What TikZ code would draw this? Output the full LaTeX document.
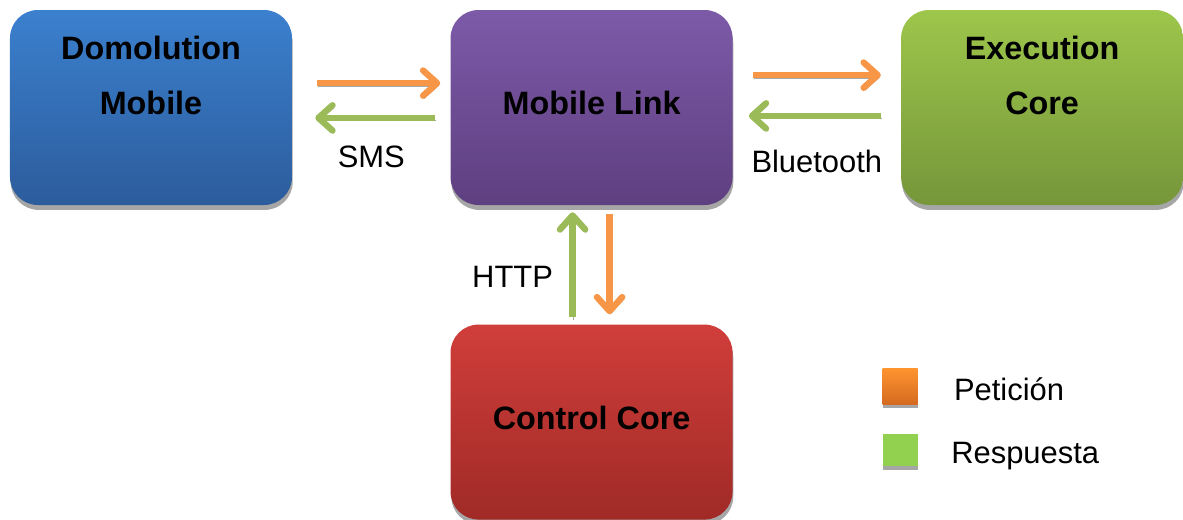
\documentclass[tikz,border=0pt]{standalone}
\usepackage{fontspec}
\setmainfont{Liberation Sans}
\usetikzlibrary{shapes,arrows.meta,positioning,shadows,calc}

\definecolor{bluetop}{HTML}{3B80CE}
\definecolor{bluebot}{HTML}{2C5C9C}
\definecolor{purtop}{HTML}{7D5AA8}
\definecolor{purbot}{HTML}{5E3F80}
\definecolor{grntop}{HTML}{9DC64B}
\definecolor{grnbot}{HTML}{76963A}
\definecolor{redtop}{HTML}{D03E3A}
\definecolor{redbot}{HTML}{A02A27}
\definecolor{petorange}{HTML}{F79646}
\definecolor{resgreen}{HTML}{9BBB59}
\definecolor{legorangetop}{HTML}{FF9430}
\definecolor{legorangebot}{HTML}{D56A20}
\definecolor{leggreen}{HTML}{92D050}
\definecolor{shadowgray}{HTML}{A6A6A6}

\begin{document}
\begin{tikzpicture}[
    every node/.style={font=\fontsize{22}{39.7}\selectfont},
    box/.style={rectangle, rounded corners=0.7cm, minimum width=7.05cm, minimum height=4.875cm,
        align=center, text depth=6pt, font=\fontsize{23}{39.6}\selectfont\bfseries,
        drop shadow={shadow xshift=0.5pt, shadow yshift=-3.5pt, fill=shadowgray, opacity=1}},
    legbox/.style={rectangle, minimum width=0.875cm, inner sep=0,
        drop shadow={shadow xshift=0pt, shadow yshift=-3pt, fill=shadowgray, opacity=1}},
    pet/.style={draw=petorange, line width=4.5pt, -{Straight Barb[round,length=10pt,width=18pt]},
        preaction={draw=shadowgray, transform canvas={shift={(0.8pt,-2pt)}}}},
    res/.style={draw=resgreen, line width=4.5pt, -{Straight Barb[round,length=10pt,width=18pt]},
        preaction={draw=shadowgray, transform canvas={shift={(0.8pt,-2pt)}}}}
  ]
  \useasboundingbox (0,0) rectangle (29.575,12.975);

  % cajas
  \node[box, top color=bluetop, bottom color=bluebot] (dom) at (3.775,10.2875) {Domolution\\Mobile\\~};
  \node[box, top color=purtop, bottom color=purbot, right=3.95cm of dom] (link) {Mobile Link};
  \node[box, top color=grntop, bottom color=grnbot, right=4.2cm of link] (exec) {Execution\\Core\\~};
  \node[box, top color=redtop, bottom color=redbot, below=2.975cm of link] (ctrl) {Control Core};

  % flechas
  \draw[pet, shorten <=0.625cm, shorten >=0.25cm] ([yshift=0.61cm]dom.east) -- ([yshift=0.61cm]link.west);
  \draw[res, shorten <=0.375cm, shorten >=0.575cm] ([yshift=-0.26cm]link.west) -- ([yshift=-0.26cm]dom.east)
    node[midway, yshift=-0.975cm] (sms) {SMS};
  \draw[pet, shorten <=0.5cm, shorten >=0.5cm] ([yshift=0.81cm]link.east) -- ([yshift=0.81cm]exec.west);
  \draw[res, shorten <=0.5cm, shorten >=0.4cm] ([yshift=-0.21cm]exec.west) -- ([yshift=-0.21cm]link.east)
    node[midway, yshift=-1.15cm] (bt) {Bluetooth};
  \draw[res, shorten <=0.175cm, shorten >=0.175cm] ([xshift=-0.475cm]ctrl.north) -- ([xshift=-0.475cm]link.south)
    node[pos=0.4, xshift=-1.5cm] (http) {HTTP};
  \draw[pet, shorten <=0.225cm, shorten >=0.25cm] ([xshift=0.45cm]link.south) -- ([xshift=0.45cm]ctrl.north);

  % leyenda
  \node[legbox, minimum height=0.9cm, top color=legorangetop, bottom color=legorangebot] (legpet) at (22.5,3.325) {};
  \node[legbox, minimum height=0.8cm, fill=leggreen] (legres) at (22.5,1.725) {};
  \node[anchor=base west, inner sep=0] (petlbl) at ([xshift=0.9cm, yshift=-0.35cm]legpet.east) {Petición};
  \node[anchor=base west, inner sep=0] (reslbl) at ([xshift=0.83cm, yshift=-0.325cm]legres.east) {Respuesta};
\end{tikzpicture}
\end{document}
